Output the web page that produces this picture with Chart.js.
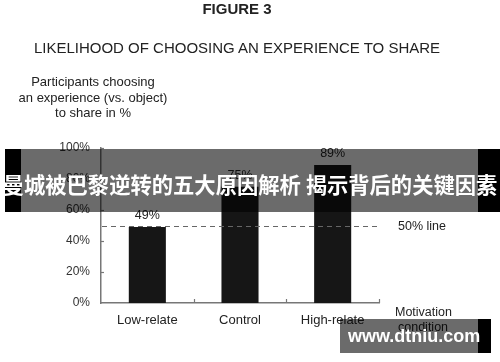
<!DOCTYPE html>
<html>
<head>
<meta charset="utf-8">
<script src="https://cdn.jsdelivr.net/npm/chart.js@4"></script>
<style>
  html, body { margin: 0; padding: 0; background: #fff; }
  #wrap { position: relative; width: 500px; height: 362px; overflow: hidden; font-family: "Liberation Sans", Arial, sans-serif; color: #222; }
  #chart { position: absolute; left: 0; top: 0; }
  .txt { position: absolute; white-space: nowrap; }
  #fig { left: 0; width: 474px; top: 0; text-align: center; font-weight: bold; font-size: 15px; line-height: 18px; }
  #title { left: 0; width: 474px; top: 39px; text-align: center; font-size: 15px; line-height: 18px; }
  #ytitle { left: 13px; width: 160px; top: 74px; text-align: center; font-size: 13px; line-height: 15.5px; }
  #bannerBg { position: absolute; left: 21px; width: 457px; top: 149px; height: 63px; background: rgba(0,0,0,0.58); }
  #bannerL { position: absolute; left: 5px; width: 16px; top: 149px; height: 63px; background: #000; }
  #bannerR { position: absolute; left: 478px; width: 22px; top: 149px; height: 63px; background: #000; }
  #bannerText { position: absolute; left: -20px; width: 540px; top: 170px; text-align: center; white-space: nowrap; color: #fff; font-family: "Noto Sans CJK SC", sans-serif; font-weight: bold; font-size: 21.3px; line-height: 28px; }
  #wmBg { position: absolute; left: 340px; width: 138px; top: 319px; height: 34px; background: rgba(0,0,0,0.58); }
  #wmR { position: absolute; left: 478px; width: 13px; top: 319px; height: 34px; background: #000; }
  #wmText { position: absolute; left: 348px; top: 324px; color: #fff; font-family: "Liberation Sans", Arial, sans-serif; font-weight: bold; font-size: 18px; line-height: 24px; }
</style>
</head>
<body>
<div id="wrap">
  <canvas id="chart" width="500" height="362"></canvas>
  <div class="txt" id="fig">FIGURE 3</div>
  <div class="txt" id="title">LIKELIHOOD OF CHOOSING AN EXPERIENCE TO SHARE</div>
  <div class="txt" id="ytitle">Participants choosing<br>an experience (vs. object)<br>to share in %</div>
  <div id="bannerBg"></div>
  <div id="bannerL"></div>
  <div id="bannerR"></div>
  <div id="bannerText">曼城被巴黎逆转的五大原因解析 揭示背后的关键因素</div>
  <div id="wmBg"></div>
  <div id="wmR"></div>
  <div id="wmText">www.dtniu.com</div>
</div>
<script>
/* ===== DATA ===== */
const CATEGORIES = ["Low-relate", "Control", "High-relate"];
const VALUES = [49, 75, 89];
const Y_TICKS = [0, 20, 40, 60, 80, 100];
const REF_LINE = 50;
const REF_LABEL = "50% line";
const X_TITLE = ["Motivation", "condition"];

const FONT = "'Liberation Sans', Arial, sans-serif";
const AXIS = "#777";

/* ===== EXTRA DRAWING ===== */
const extras = {
  id: "extras",
  afterDatasetsDraw(chart) {
    const { ctx, chartArea, scales } = chart;
    const x = scales.x, y = scales.y;
    ctx.save();

    // inward ticks on y axis
    ctx.strokeStyle = AXIS;
    ctx.lineWidth = 1.2;
    Y_TICKS.forEach((v) => {
      if (v === 0) return;
      const py = Math.round(y.getPixelForValue(v)) + 0.5;
      ctx.beginPath();
      ctx.moveTo(chartArea.left, py);
      ctx.lineTo(chartArea.left + 3, py);
      ctx.stroke();
    });

    // inward ticks on x axis between categories
    const step = x.getPixelForValue(1) - x.getPixelForValue(0);
    for (let i = 0; i < CATEGORIES.length; i++) {
      const rx = Math.round(x.getPixelForValue(i) + step / 2) + 0.5;
      ctx.beginPath();
      ctx.moveTo(rx, chartArea.bottom);
      ctx.lineTo(rx, chartArea.bottom - 4);
      ctx.stroke();
    }

    // dashed 50% line
    const ry = Math.round(y.getPixelForValue(REF_LINE)) + 0.5;
    ctx.strokeStyle = "#666";
    ctx.lineWidth = 1.2;
    ctx.setLineDash([5, 4]);
    ctx.beginPath();
    ctx.moveTo(chartArea.left + 1, ry);
    ctx.lineTo(chartArea.right, ry);
    ctx.stroke();
    ctx.setLineDash([]);

    // bar value labels
    ctx.fillStyle = "#222";
    ctx.font = "12.5px " + FONT;
    ctx.textAlign = "center";
    ctx.textBaseline = "bottom";
    const meta = chart.getDatasetMeta(0);
    meta.data.forEach((bar, i) => {
      ctx.fillText(VALUES[i] + "%", bar.x, bar.y - 5);
    });

    // reference line label
    ctx.textAlign = "left";
    ctx.textBaseline = "middle";
    ctx.fillText(REF_LABEL, chartArea.right + 19, ry);

    // x axis title
    ctx.fillText(X_TITLE[0], chartArea.right + 16, chartArea.bottom + 10);
    ctx.fillText(X_TITLE[1], chartArea.right + 19, chartArea.bottom + 25);

    ctx.restore();
  },
};

/* ===== CHART ===== */
new Chart(document.getElementById("chart"), {
  type: "bar",
  data: {
    labels: CATEGORIES,
    datasets: [
      {
        data: VALUES,
        backgroundColor: "#161616",
        barPercentage: 0.4,
        categoryPercentage: 1,
      },
    ],
  },
  options: {
    responsive: false,
    animation: false,
    layout: { padding: { left: 0, right: 121, top: 148, bottom: 29 } },
    plugins: { legend: { display: false }, tooltip: { enabled: false } },
    scales: {
      y: {
        min: 0,
        max: 100,
        afterFit: (s) => (s.width = 101),
        afterBuildTicks: (s) => (s.ticks = Y_TICKS.map((v) => ({ value: v }))),
        ticks: {
          callback: (v) => v + "%",
          font: { family: FONT, size: 12 },
          color: "#333",
          padding: 11,
        },
        grid: { display: false, drawTicks: false },
        border: { display: true, color: AXIS, width: 1.5 },
      },
      x: {
        afterFit: (s) => (s.height = 30),
        ticks: {
          font: { family: FONT, size: 13 },
          color: "#222",
          padding: 10,
        },
        grid: { display: false, drawTicks: false },
        border: { display: true, color: AXIS, width: 1.5 },
      },
    },
  },
  plugins: [extras],
});
</script>
</body>
</html>
